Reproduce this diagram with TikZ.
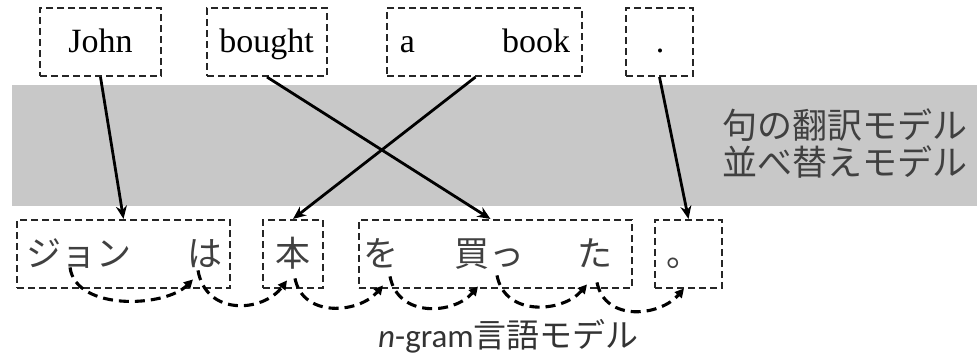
\documentclass[tikz,border=0pt]{standalone}
\usepackage{fontspec}
\setmainfont{Liberation Serif}
\newfontfamily\cjk{Noto Sans CJK JP}
\newfontfamily\carlito{Carlito}
\usetikzlibrary{arrows.meta,calc}
\definecolor{bandgray}{RGB}{200,200,200}
\begin{document}
\begin{tikzpicture}[x=1pt,y=-1pt,
  dbox/.style={draw=black!85, line width=2.1pt, dash pattern=on 7pt off 4pt,
    minimum width=#1, minimum height=68pt, inner sep=0pt},
  dbox/.default=60pt,
  en/.style={font=\fontsize{34}{34}\selectfont, inner sep=0pt, anchor=base},
  jp/.style={font=\cjk\fontsize{35}{35}\selectfont, text=black!75, inner sep=0pt,
    text height=30.8pt, text depth=4.2pt, anchor=base},
  sarrow/.style={draw=black, line width=2.8pt, -{Stealth[length=13pt,width=11pt]}},
  carrow/.style={draw=black, line width=3.1pt, dash pattern=on 10pt off 6pt,
    -{Triangle[length=9pt,width=9pt]}}
]
\useasboundingbox (0,0) rectangle (977,359);
\fill[bandgray] (12,85) rectangle (977,206);

% top boxes
\node[dbox=121pt] (John) at (100.5,42) {};
\node[dbox=120pt] (bought) at (267,42) {};
\node[dbox=195pt] (abook) at (484.5,42) {};
\node[dbox=67pt] (period) at (659.5,42) {};
\node[en] (tJohn) at (100.5,52) {John};
\node[en] (tbought) at (266.5,52) {bought};
\node[en] (ta) at (407.5,52) {a};
\node[en] (tbook) at (536,52) {book};
\node[en] (tperiod) at (660,52) {.};

% bottom boxes
\node[dbox=213pt] (jpA) at (123.5,254) {};
\node[dbox=60pt] (jpB) at (293,254) {};
\node[dbox=273pt] (jpC) at (495.5,254) {};
\node[dbox=67pt] (jpD) at (688.5,254) {};
\node[jp] (j1) at (78.5,266) {ジョン};
\node[jp] (j2) at (205,266) {は};
\node[jp] (j3) at (293,266) {本};
\node[jp] (j4) at (381,266) {を};
\node[jp] (j5) at (489.5,266) {買っ};
\node[jp] (j6) at (595,266) {た};
\node[jp] (j7) at (684,266) {。};

% labels
\node[jp, anchor=base west] (lab1) at (722,138) {句の翻訳モデル};
\node[jp, anchor=base west] (lab2) at (722,175) {並べ替えモデル};
\node[anchor=base west, inner sep=0pt, text=black!80] (ngram) at (378,347)
  {\carlito\fontsize{33}{33}\selectfont\textit{n}-gram\cjk 言語モデル};

% alignment arrows
\draw[sarrow] (John.south) -- (jpA.north);
\draw[sarrow] (bought.south) -- ($(jpC.north)+(-5,0)$);
\draw[sarrow] ($(abook.south)+(-9,0)$) -- (jpB.north);
\draw[sarrow] (period.south) -- (jpD.north);

% n-gram arrows
\draw[carrow] ($(j1.south)+(-8.5,-3)$) .. controls +(6,44) and +(-28,28) .. ($(j2.south)+(-12,9)$);
\draw[carrow] ($(j2.south)+(-7,0)$) .. controls +(8,46) and +(-24,32) .. ($(j3.south)+(-6,10)$);
\draw[carrow] ($(j3.south)+(2,8)$) .. controls +(8,40) and +(-24,28) .. ($(j4.south)+(2,15)$);
\draw[carrow] ($(j4.south)+(9,6)$) .. controls +(8,42) and +(-24,28) .. ($(j5.south)+(-11.5,16)$);
\draw[carrow] ($(j5.south)+(7.5,5)$) .. controls +(8,42) and +(-24,28) .. ($(j6.south)+(-8,14)$);
\draw[carrow] ($(j6.south)+(2,12)$) .. controls +(8,40) and +(-24,28) .. ($(j7.south)+(0,18)$);
\end{tikzpicture}
\end{document}
